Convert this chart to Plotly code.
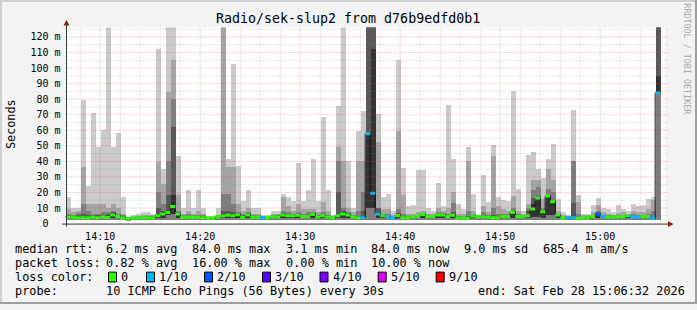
import plotly.graph_objects as go
import pandas as pd

W, H = 697, 310

# ---------------- data (one column per 30 s sample) ----------------
sample_start = "2026-02-28 14:06:30"
n_samples = 119

ping_max = [16.5, 10, 10, 79, 24, 71, 49, 60, 130, 49,
            58, 17, 4, 5, 6, 7, 7, 6, 112, 35,
            130, 130, 43, 10, 21, 10, 21.5, 10, 4.5, 4.5,
            10, 130, 41, 102, 37, 14, 21.5, 10, 10, 5,
            5, 8, 8, 19, 17, 14, 38.7, 14, 21.5, 41,
            14, 68, 21, 5, 75, 130, 40, 10, 59, 72,
            130, 130, 70, 17, 18.7, 8, 105, 35.6, 10.7, 11.4,
            34, 34, 10, 8, 26, 11, 76, 41.5, 12.4, 9,
            49, 18.7, 5.5, 31, 13.5, 50, 17, 15, 14.5, 85,
            22, 8, 44, 45.5, 34.5, 29, 41, 51, 15.6, 7,
            5.5, 73, 18, 6, 6, 11.8, 16, 9.7, 9, 7,
            11.4, 9, 8, 12.4, 10.7, 11.4, 15.6, 17, 130]
ping_p8 = [9, 7, 8, 36, 12, 12, 12, 12, 10, 12,
           10, 6, 3.8, 4.5, 4.8, 5, 5.5, 5.5, 39, 25,
           84, 105, 18, 6, 8, 6, 8, 6, 4.2, 4.2,
           5.5, 130, 36, 36, 12, 8, 10, 6, 6, 4.6,
           4.5, 6, 6, 16.6, 11, 8, 12, 9, 9, 9,
           7, 13.5, 8, 4.5, 49, 40, 10, 7, 40, 40,
           130, 130, 52, 9, 9, 5, 59, 18, 6, 6,
           7, 8, 6, 6, 10, 8, 10, 20, 6, 6,
           40, 8, 5, 11, 7, 43, 11, 9, 8, 17.7,
           8, 6, 12, 28, 28, 15.6, 35, 28, 8, 5,
           4.8, 40, 13.5, 5, 5, 7, 11.4, 7, 6, 5.5,
           6.5, 7, 6, 8, 7, 7, 9, 15, 130]
ping_p7 = [6, 5.5, 6.5, 12, 8, 6, 6, 7, 7, 8,
           6, 5, 3.5, 4.2, 4.4, 4.5, 4.8, 4.6, 20, 12,
           40, 80, 8, 5, 6, 5, 5.5, 5, 4.0, 4.0,
           5, 19, 19, 12, 7, 6, 7, 5, 5, 4.4,
           4.2, 5, 5.5, 8, 7, 6, 7, 6, 7, 7,
           5, 7, 5, 4.2, 40, 10, 7, 5.5, 8, 20,
           130, 130, 10, 6, 6, 4.2, 9, 6, 4.5, 5,
           5.5, 6.5, 5.2, 5.2, 7, 6.5, 6, 13, 4.5, 4.5,
           8, 6, 4.8, 7, 5, 10, 6, 6, 6, 10,
           6, 5.2, 10, 21, 23, 10, 22, 20, 6, 4.2,
           4.3, 40, 6, 4.2, 4.5, 5.5, 8, 5.5, 5, 5,
           5.2, 5.5, 5.5, 6, 5.5, 5.5, 6, 8, 130]
ping_p6 = [5, 4.8, 5, 6, 5, 5, 5, 5.5, 6, 7,
           5.5, 4.5, 3.3, 4.0, 4.2, 4.2, 4.3, 4.2, 10, 8,
           18, 62, 7, 4.6, 4.8, 4.6, 4.6, 4.5, 3.9, 3.9,
           4.8, 8, 8, 7, 6.2, 5, 6.2, 4.5, 4.6, 4.2,
           4.1, 4.8, 5, 6.5, 5.8, 5.6, 6, 5.2, 5.2, 6.5,
           4.5, 5.5, 4.4, 4.1, 20, 8, 6.2, 5, 4.4, 8,
           130, 130, 10, 5.6, 5.2, 3.9, 6.5, 4.6, 4.0, 4.8,
           5, 6.2, 5, 5, 6, 6, 5, 7, 3.9, 4.0,
           4.5, 5.3, 4.6, 5, 4.5, 5, 4.5, 5.2, 5.2, 8,
           5, 5, 8, 16, 17.5, 8.2, 18.4, 15, 5.9, 3.9,
           4.1, 13, 4, 3.8, 4.2, 5, 6.7, 5, 4.6, 4.6,
           4.8, 5, 5.3, 4.8, 4.8, 4.8, 5, 4.5, 130]
ping_p5 = [4.6, 4.4, 4.3, 4.4, 4.0, 4.6, 4.3, 4.8, 5.0, 6.4,
           5.0, 4.0, 3.1, 3.9, 4.0, 4.0, 4.1, 3.9, 6, 7,
           8, 18, 6.6, 4.3, 4.3, 4.3, 4.3, 4.2, 3.8, 3.8,
           4.6, 5.5, 6, 5.8, 6.0, 4.4, 5.9, 4.3, 4.5, 4.1,
           4.0, 4.6, 4.6, 6, 5.4, 5.4, 5.7, 4.8, 4.9, 6.3,
           4.2, 5.3, 4.2, 4.0, 6, 7, 5.8, 4.7, 4.1, 4.3,
           57, 112, 7, 5.3, 4.9, 3.7, 5.8, 4.2, 3.8, 4.6,
           4.8, 6.0, 4.8, 4.8, 5.8, 5.8, 4.8, 5.8, 3.7, 3.8,
           3.8, 5.1, 4.5, 4.6, 4.2, 4.2, 4.1, 4.9, 4.9, 7.6,
           4.8, 4.8, 5.5, 12, 16.8, 7.9, 18, 14.5, 5.7, 3.7,
           4.0, 4.2, 3.7, 3.6, 4.0, 4.8, 6.4, 4.8, 4.4, 4.4,
           4.6, 4.8, 5.2, 4.5, 4.5, 4.6, 4.8, 3.9, 94.5]
ping_low = [3.0, 3.0, 3.0, 3.0, 3.0, 3.0, 3.0, 3.0, 3.0, 3.0,
            3.0, 3.0, 2.4, 3.0, 3.0, 3.0, 3.0, 3.0, 3.0, 3.0,
            5.0, 6.0, 3.0, 3.0, 3.0, 3.0, 3.0, 3.0, 3.0, 3.0,
            3.0, 3.0, 3.0, 3.0, 3.0, 3.0, 3.0, 3.0, 3.0, 3.0,
            3.0, 3.0, 3.0, 3.0, 3.0, 3.0, 3.0, 3.0, 3.0, 3.0,
            3.0, 3.0, 3.0, 3.0, 3.0, 3.0, 3.0, 3.0, 3.0, 3.0,
            10.0, 10.0, 3.0, 3.0, 3.0, 3.0, 3.0, 3.0, 3.0, 3.0,
            3.0, 3.0, 3.0, 3.0, 3.0, 3.0, 3.0, 3.0, 3.0, 3.0,
            3.0, 3.0, 3.0, 3.0, 3.0, 3.0, 3.0, 3.0, 3.0, 3.0,
            3.0, 3.0, 3.0, 4.0, 4.0, 3.0, 5.0, 5.0, 3.0, 3.0,
            3.0, 3.0, 3.0, 3.0, 3.0, 3.0, 3.0, 3.0, 3.0, 3.0,
            3.0, 3.0, 3.0, 3.0, 3.0, 3.0, 3.0, 3.0, 84.0]
ping_min = [2.0, 2.0, 2.0, 2.0, 1.8, 2.0, 2.0, 2.0, 2.0, 2.0,
            2.0, 2.0, 1.6, 2.0, 2.0, 2.0, 2.0, 2.0, 2.0, 2.0,
            2.0, 2.0, 2.0, 2.0, 2.0, 2.0, 2.0, 2.0, 2.0, 2.0,
            2.0, 2.0, 2.0, 2.0, 2.0, 2.0, 2.0, 2.0, 2.0, 2.0,
            2.0, 2.0, 2.0, 2.0, 2.0, 2.0, 2.0, 2.0, 2.0, 2.0,
            2.0, 2.0, 2.0, 2.0, 2.0, 2.0, 2.0, 2.0, 2.0, 2.0,
            2.0, 2.0, 2.0, 2.0, 2.0, 2.0, 2.0, 2.0, 2.0, 2.0,
            2.0, 2.0, 2.0, 2.0, 2.0, 2.0, 2.0, 2.0, 2.0, 2.0,
            2.0, 2.0, 2.0, 2.0, 2.0, 2.0, 2.0, 2.0, 2.0, 2.0,
            2.0, 2.0, 2.0, 2.0, 2.0, 2.0, 2.0, 2.0, 2.0, 2.0,
            2.0, 2.0, 2.0, 2.0, 2.0, 2.0, 2.0, 2.0, 2.0, 2.0,
            2.0, 2.0, 2.0, 2.0, 2.0, 2.0, 2.0, 2.0, 2.0]
median_rtt = [4.2, 4.0, 3.8, 3.8, 3.6, 4.2, 3.8, 4.2, 4.0, 5.6,
              4.6, 3.6, 2.8, 3.6, 3.8, 3.8, 3.8, 3.6, 5.0, 6.2,
              7.2, 11.0, 6.1, 4.0, 4.0, 4.0, 4.0, 3.8, 3.6, 3.6,
              4.4, 4.8, 5.3, 5.0, 5.7, 4.0, 5.5, 4.0, 4.2, 3.8,
              3.8, 4.4, 4.2, 5.5, 5.0, 5.0, 5.3, 4.6, 4.6, 5.9,
              4.0, 5.0, 4.0, 3.8, 5.0, 6.1, 5.5, 4.4, 3.8, 3.8,
              57.7, 19.5, 6.1, 5.0, 4.6, 3.4, 5.2, 3.8, 3.6, 4.4,
              4.6, 5.8, 4.6, 4.6, 5.6, 5.6, 4.6, 5.4, 3.4, 3.6,
              3.4, 4.8, 4.4, 4.4, 4.0, 3.8, 3.8, 4.6, 4.6, 7.2,
              4.6, 4.6, 5.0, 9.3, 16.4, 7.6, 17.7, 14.1, 5.5, 3.4,
              3.8, 3.8, 3.4, 3.4, 3.8, 4.6, 6.1, 4.6, 4.2, 4.2,
              4.4, 4.6, 5.0, 4.2, 4.2, 4.4, 4.6, 3.6, 84.0]
loss_tenths = [0, 0, 0, 0, 0, 0, 0, 0, 0, 0,
               0, 0, 0, 0, 0, 0, 0, 0, 0, 0,
               0, 0, 0, 0, 0, 0, 0, 0, 0, 0,
               0, 0, 0, 0, 0, 0, 0, 0, 0, 1,
               0, 0, 0, 0, 0, 0, 0, 0, 0, 0,
               0, 0, 0, 0, 0, 0, 0, 0, 0, 1,
               1, 1, 1, 0, 1, 1, 0, 0, 0, 0,
               0, 0, 0, 0, 0, 0, 0, 0, 0, 0,
               0, 0, 0, 0, 0, 0, 0, 0, 0, 0,
               0, 0, 0, 0, 0, 0, 0, 0, 0, 0,
               1, 1, 0, 0, 0, 0, 2, 1, 0, 0,
               0, 0, 0, 1, 1, 0, 0, 1, 1]

loss_levels = [0, 1, 2, 3, 4, 5, 9]
loss_labels = ["0", "1/10", "2/10", "3/10", "4/10", "5/10", "9/10"]
loss_colors = ["#26ff00", "#00b8ff", "#0059ff", "#5e00ff", "#7e00ff", "#dd00ff", "#ff0000"]

y_tick_vals = [0, 10, 20, 30, 40, 50, 60, 70, 80, 90, 100, 110, 120]
y_tick_text = ["0\u00a0\u00a0", "10 m", "20 m", "30 m", "40 m", "50 m", "60 m",
               "70 m", "80 m", "90 m", "100 m", "110 m", "120 m"]

title_text = "Radio/sek-slup2 from d76b9edfd0b1"
legend_rows = [
    [("median rtt:", 16), ("6.2 ms avg", 107), ("84.0 ms max", 193), ("3.1 ms min", 286.5),
     ("84.0 ms now", 372), ("9.0 ms sd", 465), ("685.4 m am/s", 544)],
    [("packet loss:", 16), ("0.82 % avg", 107), ("16.00 % max", 193), ("0.00 % min", 286.5),
     ("10.00 % now", 372)],
    [("loss color:", 16)],
    [("probe:", 16), ("10 ICMP Echo Pings (56 Bytes) every 30s", 107),
     ("end: Sat Feb 28 15:06:32 2026", 478.5)],
]
legend_box_x = [108, 146, 204, 262, 319.5, 377.7, 435.7]

# ---------------- geometry helpers ----------------
PX_L, PX_R, PX_T, PX_B = 65.5, 665.5, 28, 228


def px(x):
    return x / W


def py(y):
    return 1 - y / H


MONO = "DejaVu Sans Mono"
times = pd.date_range(sample_start, periods=n_samples, freq="30s")
centers = times + pd.Timedelta(seconds=15)
step_ms = 30000

fig = go.Figure()

layers = [
    (ping_min, ping_max, "#cacaca"),
    (ping_min, ping_p8, "#a4a4a4"),
    (ping_min, ping_p7, "#7e7e7e"),
    (ping_low, ping_p6, "#585858"),
    (ping_low, ping_p5, "#323232"),
]
for lo, hi, col in layers:
    fig.add_trace(go.Bar(
        x=centers, y=[h - l for h, l in zip(hi, lo)], base=lo, width=step_ms + 600,
        marker=dict(color=col, line=dict(width=0)), showlegend=False, hoverinfo="skip"))

# thin dark step line under the coloured median strokes
fig.add_trace(go.Scatter(x=list(times) + [times[-1] + pd.Timedelta(seconds=30)],
                         y=median_rtt + [median_rtt[-1]], mode="lines",
                         line=dict(color="#111111", width=1, shape="hv"),
                         showlegend=False, hoverinfo="skip"))

# median: one short horizontal stroke per sample, coloured by packet loss
for lvl, col in zip(loss_levels, loss_colors):
    xs, ys = [], []
    for k in range(n_samples):
        if loss_tenths[k] != lvl:
            continue
        xs += [times[k], times[k] + pd.Timedelta(seconds=30), None]
        ys += [median_rtt[k], median_rtt[k], None]
    if xs:
        fig.add_trace(go.Scatter(x=xs, y=ys, mode="lines", line=dict(color=col, width=3),
                                 showlegend=False, hoverinfo="skip", connectgaps=False))

shapes = []
# grid (drawn above the smoke, like rrdtool)
for v in range(5, 130, 5):
    major = v % 10 == 0
    shapes.append(dict(type="line", xref="paper", yref="y", x0=px(PX_L), x1=px(668), y0=v, y1=v,
                       layer="above",
                       line=dict(color="rgba(222,80,80,0.42)" if major else "rgba(140,140,140,0.35)",
                                 width=1, dash="1px,1px")))
grid_t = pd.date_range("2026-02-28 14:08:00", "2026-02-28 15:06:00", freq="2min")
for t in grid_t:
    major = t.minute % 10 == 0
    shapes.append(dict(type="line", xref="x", yref="paper", x0=t, x1=t, y0=py(PX_B), y1=py(PX_T),
                       layer="above",
                       line=dict(color="rgba(222,80,80,0.42)" if major else "rgba(140,140,140,0.35)",
                                 width=1, dash="1px,1px")))
# axes + arrows
axis_col = "#2c3c38"
shapes.append(dict(type="line", xref="paper", yref="paper", x0=px(62), x1=px(669), y0=py(228.5), y1=py(228.5),
                   layer="above", line=dict(color=axis_col, width=1)))
shapes.append(dict(type="line", xref="paper", yref="paper", x0=px(66.5), x1=px(66.5), y0=py(231), y1=py(25),
                   layer="above", line=dict(color=axis_col, width=1)))
shapes.append(dict(type="path", xref="paper", yref="paper", layer="above",
                   path=f"M {px(668)} {py(225.5)} L {px(673.5)} {py(228.5)} L {px(668)} {py(231.5)} Z",
                   fillcolor="#8b1a1a", line=dict(width=0)))
shapes.append(dict(type="path", xref="paper", yref="paper", layer="above",
                   path=f"M {px(63.5)} {py(26)} L {px(66.5)} {py(20.5)} L {px(69.5)} {py(26)} Z",
                   fillcolor="#8b1a1a", line=dict(width=0)))
# frame of the whole picture
shapes += [
    dict(type="rect", xref="paper", yref="paper", x0=0, x1=1, y0=py(2), y1=1, fillcolor="#cfcfcf", line=dict(width=0)),
    dict(type="rect", xref="paper", yref="paper", x0=0, x1=px(2), y0=0, y1=1, fillcolor="#cfcfcf", line=dict(width=0)),
    dict(type="rect", xref="paper", yref="paper", x0=px(695), x1=1, y0=0, y1=1, fillcolor="#9e9e9e", line=dict(width=0)),
    dict(type="rect", xref="paper", yref="paper", x0=0, x1=1, y0=0, y1=py(308), fillcolor="#9e9e9e", line=dict(width=0)),
]
row_y = [254, 268.2, 282.3, 296.5]
# legend colour boxes
for bx, col in zip(legend_box_x, loss_colors):
    shapes.append(dict(type="rect", xref="paper", yref="paper", x0=px(bx + 0.5), x1=px(bx + 8.5),
                       y0=py(287.5), y1=py(277.5), fillcolor=col, line=dict(color="#000000", width=1)))

annotations = []
annotations.append(dict(text=title_text, x=px(348), y=py(19), xref="paper", yref="paper",
                        xanchor="center", yanchor="middle", showarrow=False,
                        font=dict(family=MONO, size=13.3, color="#000000")))
annotations.append(dict(text="Seconds", x=px(10.5), y=py(127), xref="paper", yref="paper",
                        xanchor="center", yanchor="middle", showarrow=False, textangle=-90,
                        font=dict(family=MONO, size=11.8, color="#000000")))
annotations.append(dict(text="RRDTOOL / TOBI OETIKER", x=px(687.5), y=py(60), xref="paper", yref="paper",
                        xanchor="center", yanchor="middle", showarrow=False, textangle=90,
                        font=dict(family=MONO, size=8.4, color="#a8a8a8")))
for row, ry in zip(legend_rows, row_y):
    for txt, lx in row:
        annotations.append(dict(text=txt.replace(" ", "\u00a0"), x=px(lx - 1), y=py(ry), xref="paper", yref="paper",
                                xanchor="left", yanchor="middle", showarrow=False, borderpad=0, borderwidth=0,
                                font=dict(family=MONO, size=11.85, color="#000000")))
for bx, lab in zip(legend_box_x, loss_labels):
    annotations.append(dict(text=lab, x=px(bx + 13), y=py(row_y[2]), xref="paper", yref="paper",
                            xanchor="left", yanchor="middle", showarrow=False, borderpad=0, borderwidth=0,
                            font=dict(family=MONO, size=11.85, color="#000000")))

fig.update_layout(
    width=W, height=H, margin=dict(l=0, r=0, t=0, b=0),
    paper_bgcolor="#f3f3f3", plot_bgcolor="#ffffff",
    barmode="overlay", bargap=0, showlegend=False,
    shapes=shapes, annotations=annotations,
    xaxis=dict(domain=[px(PX_L), px(PX_R)], type="date",
               range=["2026-02-28 14:06:32", "2026-02-28 15:06:32"],
               tickvals=pd.date_range("2026-02-28 14:10:00", "2026-02-28 15:00:00", freq="10min"),
               tickformat="%H:%M", showgrid=False, zeroline=False, showline=False, ticks="",
               ticklabelstandoff=5,
               tickfont=dict(family=MONO, size=10, color="#000000")),
    yaxis=dict(domain=[py(PX_B), py(PX_T)], range=[0, 126.1],
               tickvals=y_tick_vals, ticktext=y_tick_text,
               showgrid=False, zeroline=False, showline=False, ticks="",
               ticklabelstandoff=4,
               tickfont=dict(family=MONO, size=10, color="#000000")),
)

fig.write_html("out.html")
